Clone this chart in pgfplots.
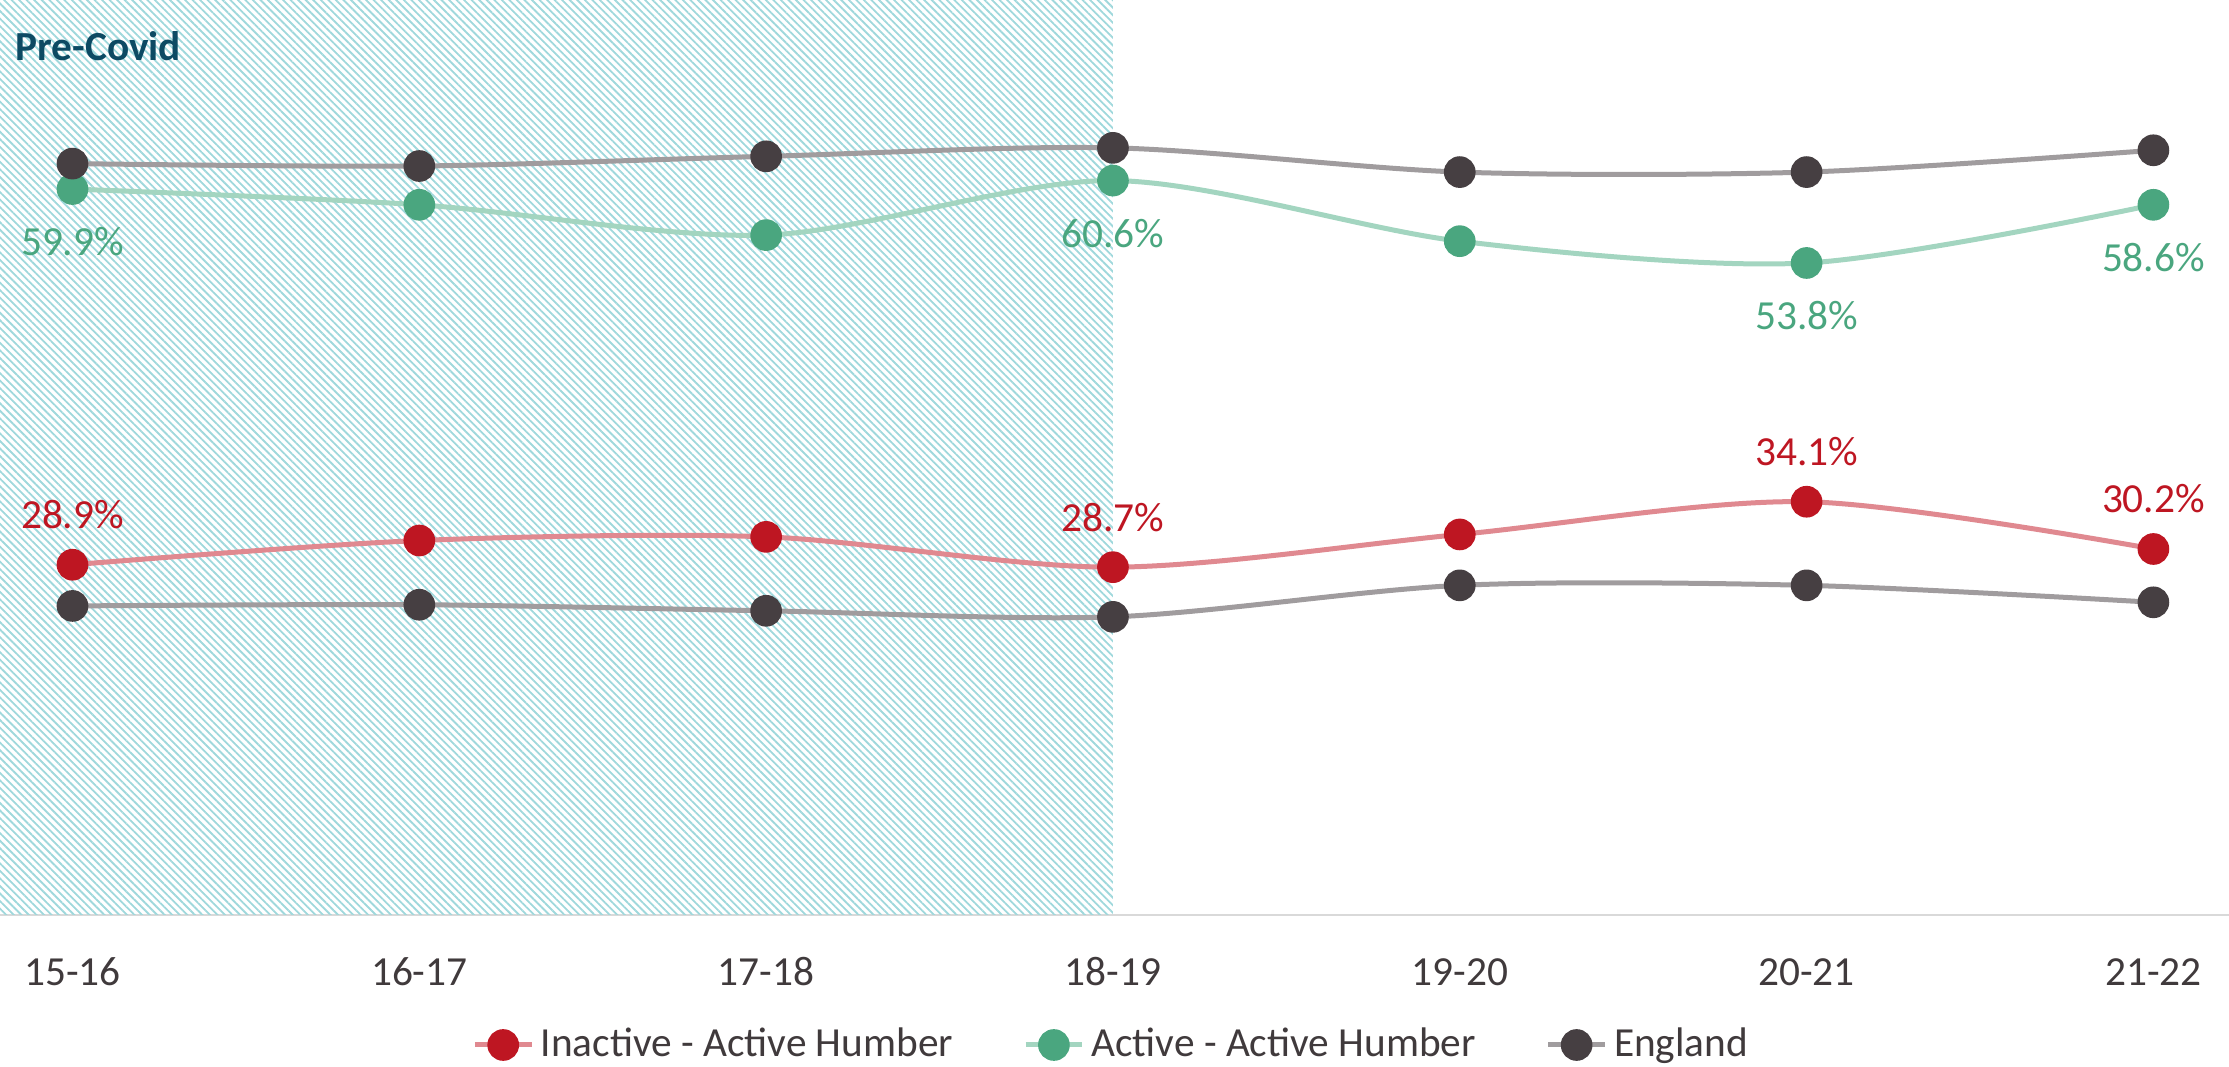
\documentclass[border=0pt]{standalone}
\usepackage{pgfplots}
\pgfplotsset{compat=1.18}
\usepackage{fontspec}
\setmainfont{Carlito}
\usetikzlibrary{patterns.meta}

\definecolor{redline}{HTML}{E08990}
\definecolor{redmark}{HTML}{BE1622}
\definecolor{greenline}{HTML}{A3D5C0}
\definecolor{greenmark}{HTML}{4AA67F}
\definecolor{greyline}{HTML}{A09C9E}
\definecolor{greymark}{HTML}{463F42}
\definecolor{txt}{HTML}{403A3C}
\definecolor{hatch}{HTML}{9FD8DC}
\definecolor{precovid}{HTML}{0D4A63}

\newcommand{\lbl}{\fontsize{12.4}{14}\selectfont}

\begin{document}
\begin{tikzpicture}
\begin{axis}[
  at={(0,0)}, anchor=south west,
  scale only axis,
  width=668.7pt, height=274.5pt,
  xmin=-0.209, xmax=6.218,
  ymin=0, ymax=75.5,
  axis x line*=bottom,
  axis y line=none,
  x axis line style={draw=black!15, line width=0.6pt},
  xtick={0,...,6},
  xticklabels={15-16,16-17,17-18,18-19,19-20,20-21,21-22},
  xtick style={draw=none},
  ytick=\empty,
  x tick label style={font=\lbl, text=txt, anchor=center, yshift=-17.1pt},
  clip=false,
  legend columns=3,
  legend image code/.code={
    \draw[mark repeat=2,mark phase=2] plot coordinates {(0pt,0pt) (8.5pt,0pt) (17pt,0pt)};
  },
  legend style={at={(0.4996,0)}, anchor=center, yshift=-39pt, draw=none, fill=none,
    font=\lbl, text=txt,
    /tikz/every even column/.append style={column sep=19pt}},
  every axis plot/.append style={line width=1.5pt, smooth, mark=*, mark size=4pt},
  nodes near coords={\pgfplotspointmeta},
  point meta=explicit symbolic,
]

% pre-covid shading
\fill[pattern={Lines[angle=-45, distance=1.6pt, line width=0.55pt]}, pattern color=hatch]
  (axis cs:-0.209,0) rectangle (axis cs:3,75.5);
\node[anchor=west, inner sep=0pt, font=\lbl\bfseries, text=precovid] at (axis cs:-0.166,71.7) {Pre-Covid};

\addplot[color=redline, mark options={solid, draw=redmark, fill=redmark},
  every node near coord/.append style={anchor=center, yshift=15pt, text=redmark, font=\lbl}]
  coordinates {
  (0,28.9) [28.9\%]
  (1,30.9) []
  (2,31.2) []
  (3,28.7) [28.7\%]
  (4,31.4) []
  (5,34.1) [34.1\%]
  (6,30.2) [30.2\%]
};
\addlegendentry{Inactive - Active Humber}

\addplot[color=greenline, mark options={solid, draw=greenmark, fill=greenmark},
  every node near coord/.append style={anchor=center, yshift=-15.8pt, text=greenmark, font=\lbl}]
  coordinates {
  (0,59.9) [59.9\%]
  (1,58.6) []
  (2,56.1) []
  (3,60.6) [60.6\%]
  (4,55.6) []
  (5,53.8) [53.8\%]
  (6,58.6) [58.6\%]
};
\addlegendentry{Active - Active Humber}

\addplot[color=greyline, mark options={solid, draw=greymark, fill=greymark}]
  coordinates {
  (0,62.0) []
  (1,61.8) []
  (2,62.6) []
  (3,63.3) []
  (4,61.3) []
  (5,61.3) []
  (6,63.1) []
};
\addlegendentry{England}

\addplot[color=greyline, mark options={solid, draw=greymark, fill=greymark}, forget plot]
  coordinates {
  (0,25.5) []
  (1,25.6) []
  (2,25.1) []
  (3,24.6) []
  (4,27.2) []
  (5,27.2) []
  (6,25.8) []
};

\end{axis}
\pgfresetboundingbox
\useasboundingbox (0,-45.6pt) rectangle (668.7pt,274.5pt);
\end{tikzpicture}
\end{document}
